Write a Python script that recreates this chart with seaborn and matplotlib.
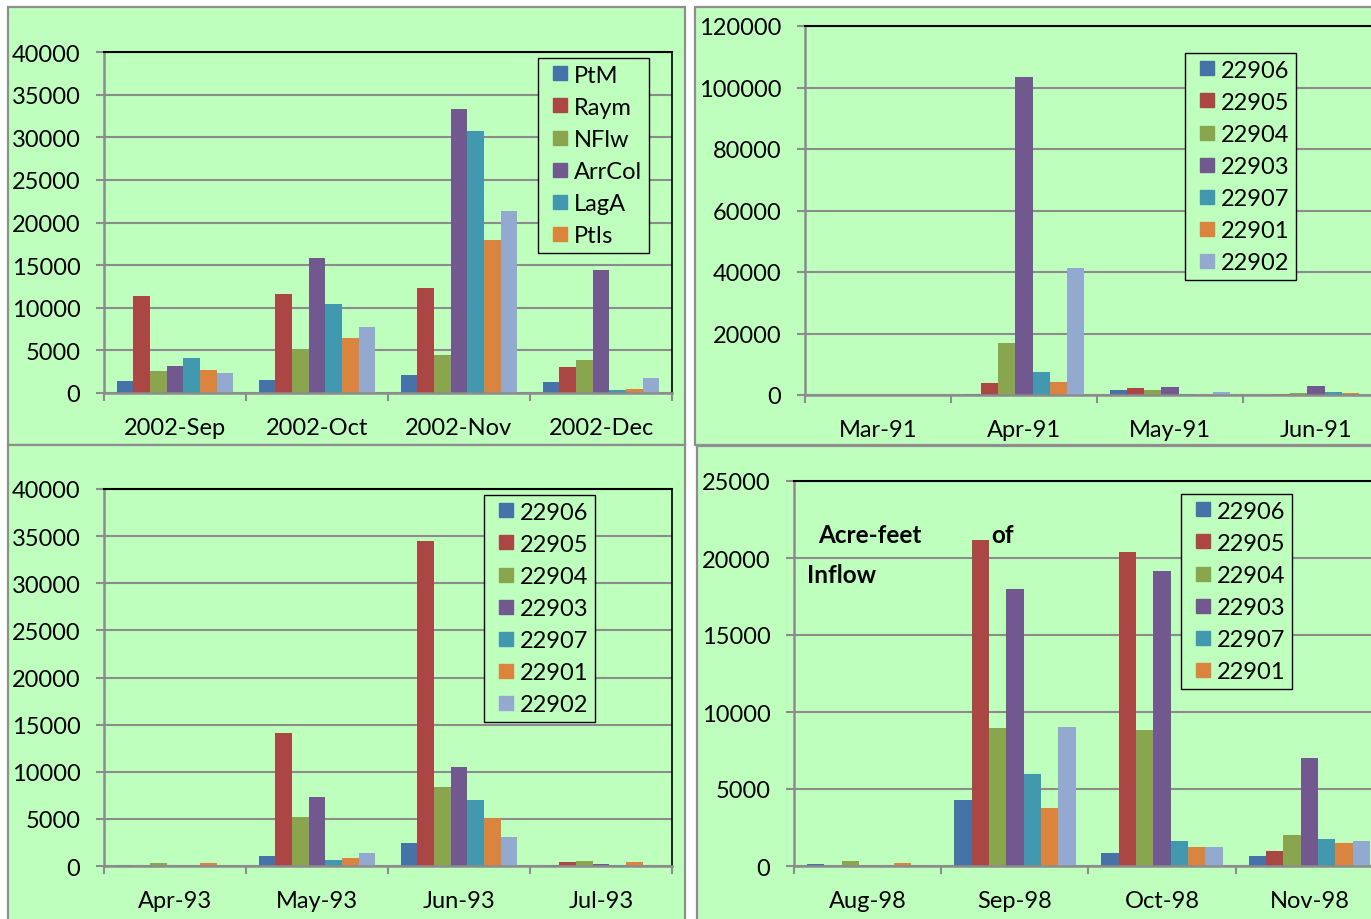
import matplotlib
matplotlib.use("Agg")
import matplotlib.pyplot as plt
from matplotlib.lines import Line2D
from matplotlib.patches import Rectangle
import seaborn as sns
import pandas as pd

# ---------------- data ----------------
months_2002 = ["2002-Sep", "2002-Oct", "2002-Nov", "2002-Dec"]
stations_2002 = ["PtM", "Raym", "NFlw", "ArrCol", "LagA", "PtIs", "Other"]
ptm_2002 = [1400, 1500, 2100, 1250]
raym_2002 = [11400, 11600, 12300, 3100]
nflw_2002 = [2600, 5200, 4500, 3900]
arrcol_2002 = [3200, 15800, 33300, 14400]
laga_2002 = [4100, 10400, 30700, 350]
ptis_2002 = [2650, 6500, 18000, 450]
other_2002 = [2400, 7800, 21300, 1800]

stations = ["22906", "22905", "22904", "22903", "22907", "22901", "22902"]

months_1991 = ["Mar-91", "Apr-91", "May-91", "Jun-91"]
s22906_1991 = [0, 200, 1500, 100]
s22905_1991 = [0, 3900, 2400, 300]
s22904_1991 = [0, 16800, 1600, 550]
s22903_1991 = [0, 103400, 2500, 3000]
s22907_1991 = [0, 7400, 300, 900]
s22901_1991 = [0, 4100, 300, 650]
s22902_1991 = [0, 41400, 900, 300]

months_1993 = ["Apr-93", "May-93", "Jun-93", "Jul-93"]
s22906_1993 = [150, 1100, 2400, 150]
s22905_1993 = [50, 14100, 34500, 450]
s22904_1993 = [300, 5200, 8400, 500]
s22903_1993 = [50, 7300, 10500, 200]
s22907_1993 = [30, 600, 7000, 100]
s22901_1993 = [300, 800, 5100, 400]
s22902_1993 = [50, 1400, 3100, 50]

months_1998 = ["Aug-98", "Sep-98", "Oct-98", "Nov-98"]
s22906_1998 = [120, 4300, 870, 650]
s22905_1998 = [30, 21150, 20400, 1000]
s22904_1998 = [300, 8950, 8800, 2000]
s22903_1998 = [20, 18000, 19150, 7000]
s22907_1998 = [20, 5950, 1600, 1750]
s22901_1998 = [170, 3750, 1250, 1500]
s22902_1998 = [20, 9000, 1250, 1600]

note_line1 = "Acre-feet"
note_line1b = "of"
note_line2 = "Inflow"

# ---------------- style ----------------
palette = ["#4572A7", "#AA4643", "#89A54E", "#71588F", "#4198AF", "#DB843D", "#93A9CF"]
panel_green = "#BEFFBE"
grid_gray = "#8C8C8C"
border_gray = "#8E8E8E"

plt.rcParams["font.family"] = ["Lato", "DejaVu Sans"]
FS = 17

W, H = 1371, 920
fig = plt.figure(figsize=(W / 100, H / 100), dpi=100, facecolor="white")


def frect(l, t, r, b):
    return [l / W, 1 - b / H, (r - l) / W, (b - t) / H]


def panel(l, t, r, b):
    fig.patches.append(Rectangle((l / W, 1 - b / H), (r - l) / W, (b - t) / H,
                                 transform=fig.transFigure, facecolor=panel_green,
                                 edgecolor=border_gray, linewidth=1.6, zorder=-5))


def long_frame(months, names, series):
    rows = []
    for name, vals in zip(names, series):
        for m, v in zip(months, vals):
            rows.append({"month": m, "station": name, "value": v})
    return pd.DataFrame(rows)


def draw(ax, months, names, series, ymax, ystep, legend_n, leg_xy, right_spine=True):
    df = long_frame(months, names, series)
    sns.barplot(data=df, x="month", y="value", hue="station", order=months,
                hue_order=names, palette=palette[:len(names)], saturation=1,
                width=7 / 8.5, errorbar=None, linewidth=0, legend=False, ax=ax)
    ax.set_facecolor("none")
    ax.set_xlim(-0.5, len(months) - 0.5)
    ax.set_ylim(0, ymax)
    ticks = list(range(0, ymax + 1, ystep))
    ax.set_yticks(ticks)
    ax.set_yticklabels([str(v) for v in ticks])
    ax.set_xlabel("")
    ax.set_ylabel("")
    ax.set_axisbelow(True)
    ax.yaxis.grid(True, color=grid_gray, linewidth=1.5)
    ax.xaxis.grid(False)
    # category labels at centres, tick marks at boundaries
    ax.set_xticks(range(len(months)))
    ax.set_xticklabels(months)
    ax.set_xticks([i - 0.5 for i in range(len(months) + 1)], minor=True)
    ax.tick_params(axis="x", which="major", length=0, pad=17.5, labelsize=FS)
    ax.tick_params(axis="x", which="minor", length=6, width=1.5, color=grid_gray,
                   direction="out")
    ax.tick_params(axis="y", length=6, width=1.5, color=grid_gray, pad=11,
                   labelsize=FS)
    for side in ("left", "bottom"):
        ax.spines[side].set_color(grid_gray)
        ax.spines[side].set_linewidth(1.8)
    ax.spines["top"].set_color("black")
    ax.spines["top"].set_linewidth(1.5)
    ax.spines["right"].set_color("black")
    ax.spines["right"].set_linewidth(1.2)
    ax.spines["right"].set_visible(right_spine)

    handles = [Line2D([], [], marker="s", markersize=10.5, linestyle="none",
                      color=palette[i]) for i in range(legend_n)]
    leg = ax.legend(handles, names[:legend_n], loc="upper left",
                    bbox_to_anchor=(leg_xy[0] / W, 1 - leg_xy[1] / H),
                    bbox_transform=fig.transFigure, borderaxespad=0,
                    fontsize=FS, frameon=True, fancybox=False, facecolor=panel_green,
                    framealpha=1, edgecolor="black", borderpad=0.28,
                    labelspacing=0.47, handlelength=1.3, handletextpad=-0.05)
    leg.get_frame().set_linewidth(1.0)
    return ax


# panel frames
panel(8, 8, 685, 446)
panel(695, 8, 1390, 446)
panel(8, 446, 685, 940)
panel(697, 447, 1390, 940)

ax1 = fig.add_axes(frect(104, 53, 672, 394))
draw(ax1, months_2002, stations_2002,
     [ptm_2002, raym_2002, nflw_2002, arrcol_2002, laga_2002, ptis_2002, other_2002],
     40000, 5000, 6, (538, 59))

ax2 = fig.add_axes(frect(805, 27, 1389, 396))
draw(ax2, months_1991, stations,
     [s22906_1991, s22905_1991, s22904_1991, s22903_1991, s22907_1991, s22901_1991,
      s22902_1991],
     120000, 20000, 7, (1185, 54), right_spine=False)

ax3 = fig.add_axes(frect(104, 490, 672, 867))
draw(ax3, months_1993, stations,
     [s22906_1993, s22905_1993, s22904_1993, s22903_1993, s22907_1993, s22901_1993,
      s22902_1993],
     40000, 5000, 7, (484, 496))

ax4 = fig.add_axes(frect(794, 482, 1383, 867))
draw(ax4, months_1998, stations,
     [s22906_1998, s22905_1998, s22904_1998, s22903_1998, s22907_1998, s22901_1998,
      s22902_1998],
     25000, 5000, 6, (1181, 495), right_spine=False)

# caption inside the last chart
for txt, x, y in [(note_line1, 818, 543), (note_line1b, 991, 543), (note_line2, 807, 583)]:
    fig.text(x / W, 1 - y / H, txt, fontsize=FS + 0.5, fontweight="bold", ha="left",
             va="baseline", zorder=10)

fig.savefig("out.png", dpi=100, facecolor="white")
